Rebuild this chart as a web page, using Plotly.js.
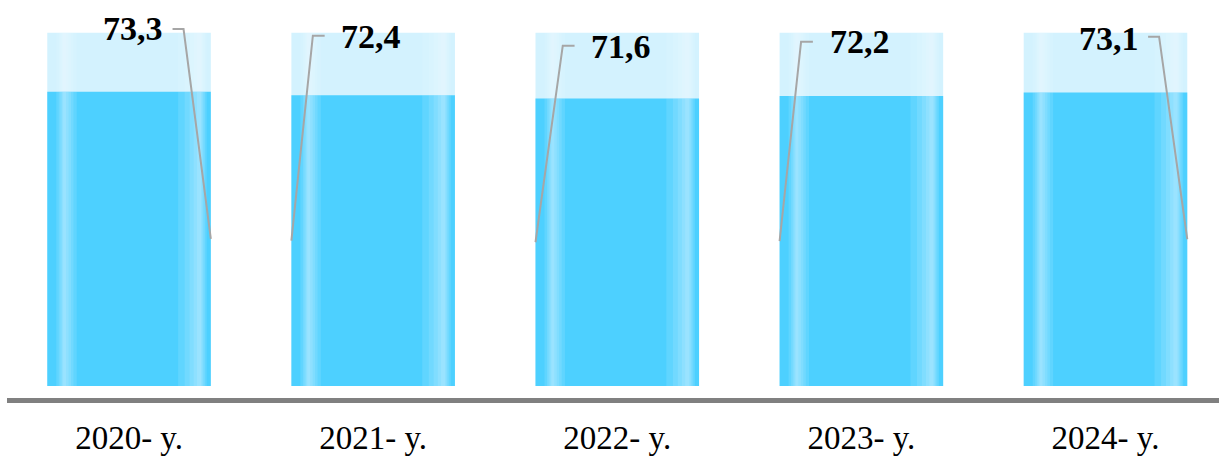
<!DOCTYPE html>
<html>
<head>
<meta charset="utf-8">
<script src="https://cdn.plot.ly/plotly-3.0.1.min.js"></script>
<style>
  html, body { margin: 0; padding: 0; background: #ffffff; }
  #chart { width: 1219px; height: 457px; }
</style>
</head>
<body>
<div id="chart"></div>
<script>
// ---- data ----
const categories = ['2020- y.', '2021- y.', '2022- y.', '2023- y.', '2024- y.'];
const values = [73.3, 72.4, 71.6, 72.2, 73.1];
const capacity = [88, 88, 88, 88, 88];

// ---- layout constants ----
const W = 1219, H = 457;
const ML = 7, MR = 0, MT = 0, MB = 59;
const xRange = [-0.5, 4.465];
const yRange = [-2.99, 96.14];
const barW = 0.67;
const pxX = (W - ML - MR) / (xRange[1] - xRange[0]);
const pxY = (H - MT - MB) / (yRange[1] - yRange[0]);

// label placement (pixels): horizontal shift from bar centre, lift above bar top
const labelDx = [4, -1.8, 4, -1.8, 3.1];
const labelLift = [63.0, 58.6, 52.2, 54.4, 54.2];
const leaderSide = [1, -1, -1, -1, 1];   // +1: line to right edge of bar, -1: left edge
const leaderLineDy = [-0.3, 1.0, 0.6, 0.0, 1.6];

const blue = '#4dd0ff';
const light = '#d3f2fe';
const stripes = [
  [0.055, 0.18, 0.11], [0.07, 0.16, 0.11], [0.08, 0.145, 0.11], [0.09, 0.13, 0.11], [0.097, 0.115, 0.11],
  [0.80, 0.975, 0.11], [0.84, 0.965, 0.11], [0.87, 0.955, 0.11], [0.895, 0.948, 0.11], [0.915, 0.94, 0.11]
];

const xs = categories.map((c, i) => i);
const traces = [];

function barTrace(y, color, offsetFrac, widthFrac) {
  return {
    type: 'bar', x: xs, y: y,
    width: barW * widthFrac,
    offset: -barW / 2 + barW * offsetFrac,
    marker: { color: color, line: { width: 0 } },
    hoverinfo: 'skip', showlegend: false
  };
}

traces.push(barTrace(capacity, light, 0, 1));
stripes.forEach(s => traces.push(barTrace(capacity, 'rgba(255,255,255,' + (s[2] * 0.8) + ')', s[0], s[1] - s[0])));
traces.push(barTrace(values, blue, 0, 1));
stripes.forEach(s => traces.push(barTrace(values, 'rgba(255,255,255,' + s[2] + ')', s[0], s[1] - s[0])));

const annotations = [];
values.forEach((v, i) => {
  const side = leaderSide[i];
  const xl = i + labelDx[i] / pxX;
  const yl = v + labelLift[i] / pxY;
  const elbowDx = side > 0 ? 50.5 : -58.5;
  const endDx = side > 0 ? 39.5 : -46.7;
  const yLine = yl + leaderLineDy[i] / pxY;
  traces.push({
    type: 'scatter', mode: 'lines',
    x: [i + side * barW / 2, xl + elbowDx / pxX, xl + endDx / pxX],
    y: [v / 2, yLine, yLine],
    line: { color: '#a6a6a6', width: 2 },
    hoverinfo: 'skip', showlegend: false, cliponaxis: false
  });
  annotations.push({
    x: xl, y: yl, xref: 'x', yref: 'y',
    text: v.toFixed(1).replace('.', ','),
    showarrow: false, xanchor: 'center', yanchor: 'middle',
    font: { family: 'Liberation Serif', size: 34, color: '#000000', weight: 700 }
  });
});

const layout = {
  width: W, height: H,
  margin: { l: ML, r: MR, t: MT, b: MB, pad: 0 },
  paper_bgcolor: '#ffffff', plot_bgcolor: '#ffffff',
  barmode: 'overlay',
  hovermode: false,
  showlegend: false,
  xaxis: {
    range: xRange, tickmode: 'array', tickvals: xs, ticktext: categories,
    showline: true, linecolor: '#808080', linewidth: 5,
    ticks: '', showgrid: false, zeroline: false, fixedrange: true,
    ticklabelstandoff: 6,
    tickfont: { family: 'Liberation Serif', size: 33, color: '#000000' }
  },
  yaxis: {
    range: yRange, visible: false, showgrid: false, zeroline: false, fixedrange: true
  },
  annotations: annotations
};

Plotly.newPlot('chart', traces, layout, { staticPlot: true, displayModeBar: false });
</script>
</body>
</html>
